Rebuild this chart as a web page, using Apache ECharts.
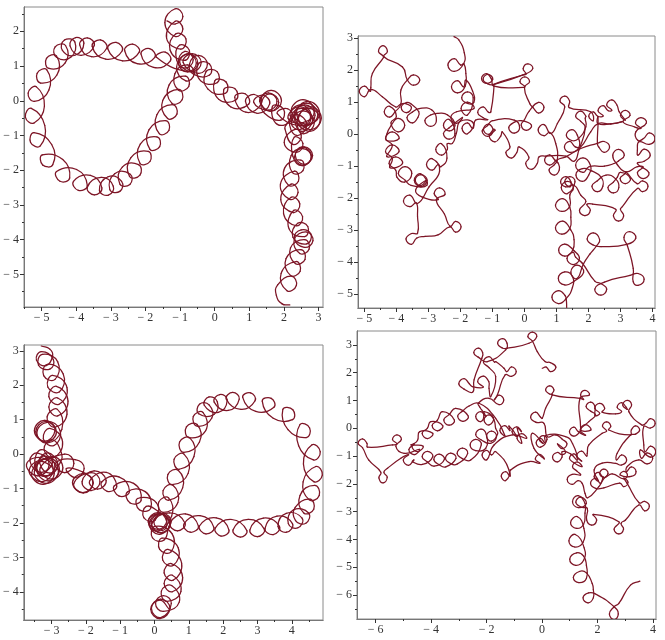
<!DOCTYPE html>
<html>
<head>
<meta charset="utf-8">
<style>html,body{margin:0;background:#fff}#c{width:665px;height:640px}</style>
<script src="https://cdn.jsdelivr.net/npm/echarts@6/dist/echarts.min.js"></script>
</head>
<body>
<div id="c"></div>
<script>
// tick labels
const xTicksA = [-5,-4,-3,-2,-1,0,1,2,3];
const yTicksA = [-5,-4,-3,-2,-1,0,1,2];
const xTicksB = [-5,-4,-3,-2,-1,0,1,2,3,4];
const yTicksB = [-5,-4,-3,-2,-1,0,1,2,3];
const xTicksC = [-3,-2,-1,0,1,2,3,4];
const yTicksC = [-4,-3,-2,-1,0,1,2,3];
const xTicksD = [-6,-4,-2,0,2,4];
const yTicksD = [-6,-5,-4,-3,-2,-1,0,1,2,3];

// top left curve
const curveA = [
[2.17,-5.88],[1.95,-5.85],[1.78,-5.6],[1.82,-5.3],
[2.21,-5.05],[2.36,-5.32],[2.09,-5.47],[1.92,-4.97],
[2.35,-4.63],[2.47,-4.91],[2.19,-5.03],[2.06,-4.55],
[2.49,-4.29],[2.61,-4.57],[2.33,-4.69],[2.19,-4.24],
[2.6,-4],[2.73,-4.27],[2.46,-4.4],[2.3,-4],
[2.65,-3.78],[2.84,-4.03],[2.59,-4.22],[2.3,-3.95],
[2.5,-3.72],[2.78,-3.84],[2.66,-4.12],[2.26,-3.93],
[2.4,-3.53],[2.69,-3.62],[2.6,-3.91],[2.15,-3.69],
[2.28,-3.16],[2.54,-3.34],[2.36,-3.6],[1.99,-3.25],
[2.21,-2.78],[2.46,-2.97],[2.27,-3.22],[1.91,-2.85],
[2.21,-2.4],[2.41,-2.64],[2.17,-2.84],[1.9,-2.4],
[2.31,-2.03],[2.42,-2.32],[2.13,-2.43],[2.02,-1.94],
[2.49,-1.71],[2.55,-2.01],[2.25,-2.07],[2.21,-1.58],
[2.55,-1.38],[2.79,-1.62],[2.55,-1.86],[2.31,-1.62],
[2.58,-1.33],[2.83,-1.58],[2.58,-1.83],[2.33,-1.58],
[2.53,-1.33],[2.8,-1.6],[2.53,-1.87],[2.26,-1.6],
[2.3,-1.05],[2.55,-1.23],[2.36,-1.49],[2.01,-1.2],
[2.34,-.82],[2.5,-1.07],[2.24,-1.25],[2.03,-.81],
[2.06,-.7],[2.36,-.4],[2.66,-.7],[2.36,-1],
[2.17,-.55],[2.5,-.22],[2.83,-.55],[2.5,-.88],
[2.32,-.4],[2.65,-.07],[2.98,-.4],[2.65,-.73],
[2.42,-.5],[2.75,-.17],[3.08,-.5],[2.75,-.83],
[2.37,-.35],[2.7,-.02],[3.03,-.35],[2.7,-.68],
[2.22,-.3],[2.55,.03],[2.88,-.3],[2.55,-.63],
[2.12,-.5],[2.45,-.17],[2.78,-.5],[2.45,-.83],
[2.22,-.62],[2.55,-.29],[2.88,-.62],[2.55,-.95],
[2.39,-.55],[2.72,-.22],[3.05,-.55],[2.72,-.88],
[2.3,-.42],[2.6,-.12],[2.9,-.42],[2.6,-.72],
[2.18,-.42],[2.48,-.12],[2.78,-.42],[2.48,-.72],
[1.81,-.37],[2.11,-.23],[2.25,-.53],[1.81,-.68],
[1.67,-.16],[1.99,-.24],[1.91,-.56],[1.44,-.36],
[1.35,-.05],[1.6,.2],[1.85,-.05],[1.6,-.3],
[1.33,0],[1.63,.3],[1.93,0],[1.63,-.3],
[1.3,-.02],[1.55,.23],[1.8,-.02],[1.55,-.27],
[1.13,-.05],[1.38,.16],[1.59,-.09],[1.22,-.36],
[.89,-.02],[1.15,.18],[1.35,-.08],[.9,-.33],
[.58,.1],[.88,.2],[.98,-.1],[.47,-.18],
[.26,.31],[.58,.35],[.62,.03],[.12,.04],
[0,.57],[.33,.54],[.3,.21],[-.2,.34],
[-.25,.84],[.07,.84],[.07,.52],[-.41,.58],
[-.47,1.06],[-.15,1.06],[-.15,.74],[-.6,.76],
[-.73,1.05],[-.47,1.31],[-.21,1.05],[-.47,.79],
[-.91,1.1],[-.65,1.36],[-.39,1.1],[-.65,.84],
[-1.01,1.1],[-.75,1.36],[-.49,1.1],[-.75,.84],
[-1.68,1.25],[-1.43,1.4],[-1.28,1.15],[-1.77,.96],
[-2.13,1.35],[-1.88,1.5],[-1.73,1.25],[-2.24,1.07],
[-2.6,1.44],[-2.37,1.63],[-2.18,1.4],[-2.66,1.15],
[-3.09,1.5],[-2.85,1.68],[-2.67,1.44],[-3.15,1.2],
[-3.54,1.57],[-3.3,1.75],[-3.12,1.51],[-3.56,1.27],
[-3.9,1.61],[-3.68,1.81],[-3.48,1.59],[-3.86,1.31],
[-4.18,1.58],[-4.02,1.82],[-3.78,1.66],[-4.04,1.31],
[-4.4,1.45],[-4.34,1.75],[-4.04,1.69],[-4.16,1.25],
[-4.57,1.25],[-4.61,1.55],[-4.31,1.59],[-4.32,1.09],
[-4.79,.93],[-4.86,1.22],[-4.57,1.29],[-4.56,.74],
[-5.03,.51],[-5.13,.79],[-4.85,.89],[-4.79,.31],
[-5.21,-.02],[-5.39,.22],[-5.15,.4],[-4.92,-.16],
[-5.22,-.64],[-5.47,-.47],[-5.3,-.22],[-4.91,-.71],
[-5.04,-1.3],[-5.32,-1.2],[-5.22,-.92],[-4.71,-1.26],
[-4.68,-1.84],[-4.97,-1.85],[-4.98,-1.56],[-4.39,-1.69],
[-4.19,-2.22],[-4.47,-2.32],[-4.57,-2.04],[-3.99,-1.98],
[-3.68,-2.44],[-3.94,-2.58],[-4.08,-2.32],[-3.59,-2.15],
[-3.26,-2.51],[-3.48,-2.71],[-3.68,-2.49],[-3.28,-2.21],
[-2.93,-2.46],[-3.07,-2.72],[-3.33,-2.58],[-3.08,-2.19],
[-2.69,-2.32],[-2.74,-2.61],[-3.03,-2.56],[-2.89,-2.1],
[-2.44,-2.12],[-2.45,-2.41],[-2.74,-2.4],[-2.67,-1.91],
[-2.2,-1.84],[-2.16,-2.14],[-2.46,-2.18],[-2.42,-1.64],
[-1.92,-1.46],[-1.87,-1.75],[-2.16,-1.8],[-2.15,-1.25],
[-1.67,-1.04],[-1.59,-1.32],[-1.87,-1.4],[-1.9,-.84],
[-1.42,-.57],[-1.32,-.85],[-1.6,-.95],[-1.67,-.4],
[-1.22,-.11],[-1.09,-.38],[-1.36,-.51],[-1.5,.01],
[-1.04,.33],[-.94,.03],[-1.24,-.07],[-1.32,.45],
[-.85,.71],[-.75,.41],[-1.05,.31],[-1.15,.78],
[-.79,1.03],[-.59,.78],[-.83,.57],[-1.1,.97],
[-.79,1.35],[-.53,1.09],[-.79,.83],[-1.05,1.09],
[-.86,1.42],[-.62,1.18],[-.86,.94],[-1.1,1.18],
[-1.02,1.6],[-.73,1.45],[-.88,1.16],[-1.29,1.46],
[-1.12,1.93],[-.83,1.78],[-.98,1.49],[-1.39,1.8],
[-1.14,2.29],[-.92,2.07],[-1.14,1.85],[-1.44,2.25],
[-1.14,2.65],[-.92,2.43],[-1.14,2.21],[-1.38,2.3]
];

// top right curve
const curveB = [
[1.32,-5.42],[1.31,-5.2],[1.27,-5.05],[1.06,-4.9],[.86,-5.1],[1.06,-5.3],[1.3,-5.15],[1.5,-4.8],
[1.5,-4.45],[1.26,-4.31],[1.06,-4.51],[1.26,-4.72],[1.55,-4.6],
[1.85,-4.32],[1.64,-4.1],[1.45,-4.32],[1.64,-4.52],[1.85,-4.05],[2.05,-3.75],[2.25,-3.5],
[2.35,-3.3],[2.15,-3.09],[1.96,-3.28],[2.15,-3.47],[2.4,-3.52],[3.2,-3.45],
[3.48,-3.25],[3.29,-3.05],[3.11,-3.23],[3.22,-3.5],[3.4,-4.2],
[3.4,-4.62],[3.55,-4.73],[3.74,-4.54],[3.55,-4.36],[3.3,-4.42],[2.5,-4.63],
[2.2,-4.85],[2.39,-5.04],[2.57,-4.85],[2.4,-4.68],[2.2,-4.6],[1.81,-4.04],[1.6,-3.85],
[1.52,-3.7],[1.33,-3.89],[1.52,-4.08],[1.72,-3.89],[1.55,-3.65],
[1.26,-3.44],[1.07,-3.63],[1.26,-3.82],[1.5,-3.65],[1.55,-3.3],[1.45,-3],
[1.2,-2.72],[.97,-2.93],[1.17,-3.13],[1.42,-2.95],[1.45,-2.6],[1.42,-2.3],
[1.2,-2.02],[.97,-2.22],[1.17,-2.42],[1.42,-2.25],[1.42,-1.9],
[1.53,-1.67],[1.34,-1.48],[1.15,-1.67],[1.34,-1.86],
[1.58,-1.49],[1.42,-1.33],[1.26,-1.49],[1.42,-1.65],
[1.45,-1.49],[1.29,-1.33],[1.13,-1.49],[1.29,-1.65],[1.55,-1.6],
[1.76,-1.91],[1.92,-2.11],
[1.72,-2.38],[1.89,-2.55],[2.06,-2.38],[1.95,-2.2],[2.13,-2.19],[2.85,-2.35],
[2.78,-2.56],[2.94,-2.72],[3.1,-2.56],[3,-2.35],[3.06,-2.27],[3.53,-1.7],
[3.69,-1.8],[3.86,-1.63],[3.69,-1.46],[3.52,-1.55],[3.17,-1.18],
[3.15,-1.23],[2.99,-1.39],[3.15,-1.55],[3.31,-1.39],[3,-1.2],[2.9,-1.35],
[2.78,-1.5],[2.61,-1.67],[2.78,-1.84],[2.95,-1.67],[2.85,-1.4],[2.55,-1.28],
[2.28,-1.46],[2.11,-1.63],[2.28,-1.8],[2.45,-1.63],[2.4,-1.35],[2.1,-1.15],
[1.81,-1.08],[1.61,-1.28],[1.81,-1.48],[2.01,-1.28],
[2.06,-.97],[1.83,-.74],[1.6,-.97],[1.83,-1.2],[2.02,-1.02],[2.5,-1],[2.8,-.92],
[2.94,-.84],[3.12,-.66],[2.94,-.48],[2.76,-.66],[2.9,-.95],[3.17,-1.18],[3.53,-1.02],
[3.71,-1.03],[3.53,-1.21],[3.71,-1.39],[3.89,-1.21],[3.53,-.92],
[3.74,-.85],[3.93,-.66],[3.74,-.47],[3.55,-.66],[3.53,-.5],[3.58,-.24],
[3.9,-.32],[4.08,-.14],[3.9,.04],[3.72,-.14],[3.55,-.2],[3.48,.07],
[3.81,.35],[3.64,.52],[3.47,.35],[3.64,.18],[3.43,.23],[3.08,.39],
[3.3,.59],[3.15,.74],[3,.59],[3.15,.44],[2.96,.7],
[2.89,.91],[2.73,1.07],[2.57,.91],[2.73,.75],
[2.62,.73],[2.46,.89],[2.3,.73],[2.46,.57],
[2.29,.56],[2.15,.7],[2.01,.56],[2.15,.42],[2.07,.7],[1.4,.83],
[1.41,1.04],[1.26,1.19],[1.11,1.04],[1.26,.85],[1.03,.33],[.82,.02],
[.61,.3],[.43,.13],[.61,-.05],[.79,.05],[.98,-.3],[1.03,-.8],
[.93,-.96],[.77,-1.12],[.93,-1.28],[1.09,-1.12],[1.05,-.9],
[.95,-.81],[.79,-.65],[.63,-.81],[.79,-.97],[1.03,-.8],[1.29,-.71],[1.76,-.45],[2.28,-.29],
[2.49,-.23],[2.66,-.4],[2.49,-.57],[2.32,-.4],[2.28,-.29],[2.3,.31],[2.3,.55],[2.3,.33],[2.7,.32],[3.06,.39],[2.7,.32],[2.3,.33],[2.07,.07],[1.76,-.4],
[1.59,-.4],[1.42,-.23],[1.25,-.4],[1.42,-.57],[1.7,-.42],
[1.65,-.03],[1.48,.14],[1.31,-.03],[1.48,-.2],[1.68,-.15],[1.92,.23],[1.9,.5],
[1.92,.56],[1.76,.72],[1.6,.56],[1.76,.4],[1.9,.2],[1.7,-.5],[1.55,-.85],[1.29,-.69],[.67,-.69],[.46,-.71],
[.4,-.92],[.22,-1.1],[.04,-.92],[.14,-.72],[-.17,-.4],
[-.24,-.58],[-.41,-.75],[-.58,-.58],[-.45,-.4],[-.69,.07],
[-.74,-.06],[-.92,-.24],[-1.1,-.06],[-.92,.12],
[-.96,.15],[-1.12,-.01],[-1.28,.15],[-1.12,.31],
[-.98,.1],[-1.15,-.07],[-1.32,.1],[-1.15,.27],[-1,.42],[-.32,.44],
[-.15,.2],[-.32,.03],[-.49,.2],[-.32,.37],[-.1,.42],
[.22,.28],[.06,.12],[-.1,.28],[0,.45],[.15,.72],
[.44,.99],[.61,.83],[.44,.66],[.27,.83],[.17,.95],[0,1.46],
[.16,1.64],[.01,1.79],[-.14,1.64],[.01,1.49],[0,1.46],[-.95,1.5],
[-1.04,1.74],[-1.19,1.89],[-1.34,1.74],[-1.19,1.59],
[-.99,1.72],[-1.14,1.87],[-1.29,1.72],[-1.14,1.57],[-.98,1.55],[0,1.87],
[.26,2.05],[.11,2.2],[-.04,2.05],[.05,1.88],[-.05,1.85],[-.98,1.55],[-.95,1.5],[-1.05,.7],
[-1.12,.68],[-1.29,.85],[-1.46,.68],[-1.29,.51],[-1.15,.45],[-1.52,.44],
[-1.61,.18],[-1.78,.35],[-1.95,.18],[-1.78,.01],[-1.6,.35],[-2,.4],[-2.13,.02],[-2.25,-.29],[-2.41,-.3],
[-2.41,-.48],[-2.59,-.66],[-2.77,-.48],[-2.59,-.3],[-2.42,-.75],[-2.61,-1.02],
[-2.7,-.95],[-2.88,-1.13],[-3.06,-.95],[-2.88,-.77],[-2.65,-1.15],[-2.98,-1.65],[-3.34,-2.17],
[-3.58,-1.91],[-3.78,-2.09],[-3.58,-2.27],[-3.38,-2.15],[-3.34,-2.58],[-3.34,-3.1],
[-3.53,-3.11],[-3.7,-3.28],[-3.53,-3.45],[-3.36,-3.25],[-3.1,-3.2],[-2.7,-3.15],[-2.33,-2.9],
[-2.15,-3.07],[-1.98,-2.9],[-2.15,-2.73],[-2.32,-2.88],[-2.5,-2.5],[-2.75,-2.05],
[-2.48,-1.88],[-2.65,-1.68],[-2.82,-1.85],[-2.7,-2.05],[-3.19,-1.97],[-3.4,-1.75],
[-3.07,-1.44],[-3.24,-1.61],[-3.41,-1.44],[-3.24,-1.27],
[-3.04,-1.44],[-3.24,-1.64],[-3.44,-1.44],[-3.24,-1.24],[-3.05,-1.6],[-3.55,-1.6],
[-3.73,-1.44],[-3.94,-1.23],[-3.73,-1.02],[-3.52,-1.23],[-3.75,-1.5],[-3.98,-1.35],
[-4.02,-1.13],[-4.23,-.92],[-4.02,-.71],[-3.81,-.92],[-4.2,-1.05],
[-4.13,-.76],[-4.34,-.55],[-4.13,-.34],[-3.92,-.55],[-4.3,-.7],
[-4.13,-.35],[-4.34,-.14],[-4.13,.07],[-3.92,-.14],[-4.3,-.2],[-4.3,0],
[-4.16,.28],[-3.95,.49],[-3.74,.28],[-3.95,.07],[-4.17,.35],[-4,.55],
[-4.21,.87],[-4.38,.7],[-4.21,.53],[-4.04,.7],[-3.86,.94],[-3.86,1.38],[-3.66,1.69],
[-3.47,1.85],[-3.27,1.69],[-3.47,1.53],[-3.66,1.7],[-3.81,2.1],[-4.39,2.42],
[-4.28,2.59],[-4.42,2.77],[-4.56,2.59],[-4.42,2.45],[-4.4,2.4],[-4.75,1.9],[-4.8,1.46],
[-4.82,1.34],[-4.99,1.5],[-5.16,1.34],[-4.99,1.17],[-4.8,1.4],[-4.44,1.17],[-4.02,.85],[-3.86,.94],[-3.7,.95],
[-3.53,.83],[-3.69,.67],[-3.85,.83],[-3.69,.99],[-3.55,.95],[-3.3,.7],
[-3.33,.52],[-3.5,.35],[-3.67,.52],[-3.5,.69],[-3.29,.8],[-2.9,.76],
[-2.75,.42],[-2.93,.24],[-3.11,.42],[-2.93,.6],[-2.7,.65],[-2.4,.6],
[-2.17,.28],[-2.35,.1],[-2.53,.28],[-2.35,.46],
[-2.17,.02],[-2.35,-.16],[-2.53,.02],[-2.35,.2],
[-1.94,.52],[-2.12,.34],[-2.3,.52],[-2.12,.7],
[-1.58,.8],[-1.78,1],[-1.98,.8],[-1.78,.6],
[-1.6,1.14],[-1.78,1.32],[-1.96,1.14],[-1.78,.96],[-1.58,1],[-1.62,1.35],[-1.83,1.69],
[-1.9,1.48],[-2.09,1.67],[-2.28,1.48],[-2.09,1.29],[-1.85,1.5],[-1.83,1.9],[-1.89,2.2],
[-1.99,2.16],[-2.19,2.36],[-2.39,2.16],[-2.19,1.96],[-1.9,2.2],[-1.88,2.55],[-2.05,2.95],[-2.2,3.05]
];

// bottom left curve
const curveC = [
[.43,-4.51],[.16,-4.24],[-.11,-4.51],[.16,-4.78],
[.45,-4.48],[.18,-4.21],[-.09,-4.48],[.18,-4.75],
[.49,-4.34],[.26,-4.11],[.03,-4.34],[.26,-4.57],[.72,-4.3],
[.5,-3.82],[.2,-3.98],[.36,-4.28],[.77,-3.99],
[.52,-3.52],[.28,-3.76],[.52,-4],[.82,-3.59],
[.49,-3.18],[.28,-3.45],[.55,-3.66],[.79,-3.17],
[.39,-2.77],[.24,-3.08],[.55,-3.23],[.69,-2.72],
[.22,-2.44],[.15,-2.77],[.48,-2.84],[.51,-2.31],
[.01,-2.1],[-.06,-2.43],[.27,-2.5],[.42,-2.1],
[.46,-2.01],[.18,-1.73],[-.1,-2.01],[.18,-2.29],
[.45,-2.03],[.15,-1.73],[-.15,-2.03],[.15,-2.33],
[.48,-1.97],[.23,-1.72],[-.02,-1.97],[.23,-2.22],
[.36,-1.97],[.09,-1.7],[-.18,-1.97],[.09,-2.24],[.5,-1.8],
[.41,-1.27],[.12,-1.4],[.25,-1.69],[.68,-1.41],
[.53,-.9],[.25,-1.06],[.41,-1.34],[.82,-.98],
[.69,-.47],[.39,-.59],[.51,-.89],[.98,-.56],
[.86,0],[.57,-.15],[.72,-.44],[1.15,-.07],
[1.03,.47],[.73,.35],[.85,.05],[1.31,.35],
[1.24,.86],[.93,.79],[1,.48],[1.49,.68],
[1.41,1.21],[1.13,1.09],[1.25,.81],[1.67,1.05],
[1.59,1.43],[1.31,1.45],[1.29,1.17],[1.74,1.16],
[1.83,1.52],[1.59,1.66],[1.45,1.42],[1.86,1.21],
[2.12,1.57],[1.9,1.73],[1.74,1.51],[2.15,1.27],
[2.47,1.6],[2.28,1.79],[2.09,1.6],[2.52,1.3],
[2.93,1.55],[2.8,1.78],[2.57,1.65],[2.95,1.24],
[3.48,1.36],[3.4,1.62],[3.14,1.54],[3.46,1.04],
[4.02,1],[4.03,1.29],[3.74,1.3],[3.89,.71],
[4.42,.48],[4.52,.76],[4.24,.86],[4.2,.24],
[4.63,-.17],[4.83,.07],[4.59,.27],[4.34,-.29],
[4.64,-.8],[4.89,-.61],[4.7,-.36],[4.33,-.81],
[4.51,-1.33],[4.8,-1.2],[4.67,-.91],[4.24,-1.2],
[4.35,-1.71],[4.64,-1.6],[4.53,-1.31],[4.1,-1.55],
[4.11,-1.93],[4.41,-2.01],[4.49,-1.71],[4.05,-1.62],
[3.9,-2.02],[4.18,-2.14],[4.3,-1.86],[3.84,-1.72],
[3.6,-2.1],[3.85,-2.27],[4.02,-2.02],[3.57,-1.8],
[3.22,-2.16],[3.46,-2.34],[3.64,-2.1],[3.17,-1.86],
[2.78,-2.2],[3,-2.4],[3.2,-2.18],[2.73,-1.9],
[2.29,-2.2],[2.5,-2.41],[2.69,-2.22],[2.25,-1.9],
[1.77,-2.15],[1.94,-2.38],[2.17,-2.21],[1.8,-1.85],
[1.31,-2.09],[1.5,-2.32],[1.73,-2.13],[1.33,-1.79],
[.86,-2.03],[1.04,-2.27],[1.28,-2.09],[.9,-1.74],
[.45,-2.01],[.67,-2.23],[.89,-2.01],[.44,-1.71],
[-.07,-2.01],[.2,-2.28],[.47,-2.01],[.2,-1.74],
[-.18,-1.92],[.09,-2.19],[.36,-1.92],[.09,-1.65],
[-.24,-1.52],[-.31,-1.85],[.02,-1.92],[.05,-1.41],
[-.49,-1.29],[-.44,-1.62],[-.11,-1.57],[-.27,-1.09],
[-.79,-1.1],[-.71,-1.42],[-.39,-1.34],[-.61,-.85],
[-1.17,-.92],[-1.03,-1.22],[-.73,-1.08],[-1.04,-.66],
[-1.54,-.81],[-1.38,-1.08],[-1.1,-.93],[-1.41,-.53],
[-1.89,-.78],[-1.66,-1.02],[-1.41,-.76],[-1.76,-.49],
[-2.11,-.8],[-1.85,-1.06],[-1.59,-.8],[-1.85,-.54],
[-2.35,-.85],[-2.07,-1.13],[-1.79,-.85],[-2.07,-.57],
[-2.39,-.82],[-2.09,-1.12],[-1.79,-.82],[-2.09,-.52],
[-2.57,-.42],[-2.31,-.68],[-2.05,-.42],[-2.31,-.16],
[-2.89,-.27],[-2.62,-.54],[-2.35,-.27],[-2.62,0],
[-3.33,-.4],[-3,-.73],[-2.67,-.4],[-3,-.07],
[-3.5,-.5],[-3.15,-.85],[-2.8,-.5],[-3.15,-.15],
[-3.65,-.45],[-3.3,-.8],[-2.95,-.45],[-3.3,-.1],
[-3.73,-.3],[-3.4,-.63],[-3.07,-.3],[-3.4,.03],
[-3.63,-.2],[-3.3,-.53],[-2.97,-.2],[-3.3,.13],
[-3.48,-.3],[-3.15,-.63],[-2.82,-.3],[-3.15,.03],
[-3.43,-.45],[-3.1,-.78],[-2.77,-.45],[-3.1,-.12],
[-3.58,-.55],[-3.25,-.88],[-2.92,-.55],[-3.25,-.22],
[-3.5,-.35],[-3.2,-.65],[-2.9,-.35],[-3.2,-.05],
[-3.35,-.25],[-3.05,-.55],[-2.75,-.25],[-2.72,.05],
[-2.98,.42],[-3.22,.14],[-2.94,-.1],[-2.68,.36],
[-3.05,.75],[-3.24,.44],[-2.93,.25],[-2.75,.68],
[-3.16,.95],[-3.46,.65],[-3.16,.35],[-2.86,.65],
[-3.2,.98],[-3.5,.68],[-3.2,.38],[-2.9,.68],
[-3.13,.92],[-3.43,.62],[-3.13,.32],[-2.7,.72],
[-2.83,1.3],[-3.13,1.08],[-2.91,.78],[-2.55,1.16],
[-2.82,1.63],[-3.08,1.37],[-2.82,1.11],[-2.52,1.54],
[-2.86,1.97],[-3.08,1.67],[-2.78,1.45],[-2.55,1.93],
[-2.97,2.29],[-3.11,1.95],[-2.77,1.81],[-2.66,2.33],
[-3.12,2.61],[-3.23,2.28],[-2.9,2.17],[-2.82,2.68],
[-3.27,2.9],[-3.38,2.58],[-3.05,2.47],[-2.95,2.75],
[-3.3,2.98],[-3.44,2.73],[-3.16,2.57],[-2.97,2.85],[-3.05,3.05],[-3.3,3.14]
];

// bottom right curve
const curveD = [
[3.53,-5.5],[3.19,-5.64],[2.77,-6.3],
[2.6,-6.42],[2.43,-6.68],[2.6,-6.88],[2.75,-6.68],[2.6,-6.42],[1.93,-5.96],
[1.68,-5.92],[1.48,-6.1],[1.66,-6.28],[1.85,-6.1],[1.85,-5.8],[1.81,-5.58],
[1.6,-5.2],[1.35,-5.15],[1.13,-5.37],[1.33,-5.55],[1.6,-5.4],[1.6,-4.92],
[1.5,-4.6],[1.25,-4.48],[1,-4.71],[1.21,-4.93],[1.5,-4.75],[1.52,-4.3],
[1.2,-3.82],[.97,-4.05],[1.18,-4.27],[1.48,-4.1],[1.51,-3.6],
[1.28,-3.18],[1.03,-3.39],[1.24,-3.6],[1.5,-3.45],[1.55,-3.05],
[1.55,-2.7],[1.3,-2.42],[1.1,-2.64],[1.31,-2.85],
[1.6,-2.7],[1.4,-2.48],[1.22,-2.66],[1.42,-2.84],[1.63,-2.88],
[1.61,-3.3],[1.79,-3.48],[1.97,-3.3],[1.85,-3.1],[2.77,-3.36],
[2.6,-3.63],[2.77,-3.8],[2.94,-3.63],[2.85,-3.42],[3.01,-3.3],[3.49,-2.76],
[3.7,-2.97],[3.87,-2.8],[3.7,-2.63],[3.5,-2.68],[3.07,-1.98],
[2.95,-1.79],[3.1,-1.94],[2.95,-2.1],[2.8,-1.97],[2.23,-2.14],
[1.93,-2.16],[1.75,-1.98],[1.93,-1.8],[2.11,-1.98],[2.2,-1.74],
[2.18,-1.74],[2.03,-1.59],[1.88,-1.74],[2.03,-1.89],[1.88,-1.5],[2.17,-1.25],[2.65,-1.26],
[2.87,-1.32],[3.05,-1.14],[2.87,-.96],[2.69,-1.14],[2.71,-.9],[3.19,-.24],
[3.37,-.21],[3.52,-.06],[3.37,.09],[3.22,-.06],[3.19,-.24],[2.41,-.06],
[2.48,.08],[2.33,.23],[2.18,.08],[2.33,-.1],[2.17,-.18],[1.69,-.6],[1.63,-.9],
[1.61,-1],[1.43,-.82],[1.25,-1],[1.43,-1.18],
[1.31,-1.08],[1.15,-.92],[.99,-1.08],[1.15,-1.24],
[1.44,-1.38],[1.27,-1.21],[1.1,-1.38],[1.27,-1.55],[1.39,-1.68],
[1.09,-1.66],[.91,-1.84],[1.09,-2.02],[1.3,-1.88],[1.45,-1.98],[1.55,-2.34],[1.65,-2.5],[2.05,-2.1],[2.2,-1.85],
[2.38,-1.62],[2.23,-1.47],[2.08,-1.62],[2.23,-1.77],[2.53,-1.64],
[2.95,-1.82],[3.08,-1.68],[2.95,-1.55],[2.82,-1.68],
[3.22,-1.73],[3.39,-1.56],[3.22,-1.39],[3.05,-1.56],[3.07,-1.38],[3.49,-1.14],
[3.79,-1.28],[3.99,-1.08],[3.79,-.88],[3.59,-1.08],[3.55,-.78],
[3.91,-1.04],[4.1,-.84],[3.91,-.64],[3.72,-.84],[3.67,-.6],[3.67,.06],
[3.91,.01],[4.08,.18],[3.91,.35],[3.74,.18],[3.6,.12],[3.13,.6],
[3.23,.84],[3.07,1],[2.91,.84],[3.07,.68],
[3.03,.76],[2.87,.92],[2.71,.76],[2.87,.6],[2.65,.52],[2.17,.58],
[2.26,.72],[2.08,.9],[1.9,.72],[2.08,.54],[1.91,.46],
[1.91,.78],[1.75,.94],[1.59,.78],[1.75,.62],[1.93,.48],[1.69,.24],[1.39,-.06],
[1.76,-.06],[1.57,.13],[1.38,-.06],[1.57,-.25],
[1.31,-.12],[1.15,.04],[.99,-.12],[1.15,-.28],[1.38,-.1],[1.39,.06],[1.37,1.08],
[1.71,1.2],[1.55,1.36],[1.39,1.2],[1.5,1.04],[1.37,1.08],[.37,1.2],
[.43,1.38],[.28,1.53],[.13,1.38],[.28,1.23],[.37,1.2],[.13,.72],[.01,.36],
[-.05,.4],[-.23,.58],[-.41,.4],[-.23,.22],[.07,.18],[.19,-.3],[.49,-.24],
[.73,-.39],[.9,-.56],[.73,-.73],[.56,-.56],[.85,-.84],
[.72,-.95],[.55,-.87],[.38,-1.04],[.55,-1.21],[.72,-1.04],[.73,-.84],[1.03,-.92],[1.27,-1.14],[1.1,-.55],[.85,-.3],[.13,-.26],
[.11,-.52],[-.05,-.36],[-.21,-.52],[-.05,-.68],
[.18,-.4],[.04,-.26],[-.1,-.4],[.04,-.54],[-.35,-.18],[-.29,-.72],
[.08,-1.1],[-.08,-.94],[-.24,-1.1],[-.08,-1.26],[-.47,-1.2],[-1.13,-1.5],
[-1.15,-1.72],[-1.31,-1.56],[-1.47,-1.72],[-1.31,-1.88],[-1.19,-1.5],[-1.67,-.84],
[-1.82,-.96],[-1.99,-.79],[-2.16,-.96],[-1.99,-1.13],[-1.73,-.6],[-1.07,-.24],
[-.56,-.36],[-.73,-.19],[-.9,-.36],[-.73,-.53],[-.89,0],
[-.74,-.12],[-.91,.05],[-1.08,-.12],[-.91,-.29],[-1.19,.08],
[-1.16,-.08],[-1.34,.1],[-1.52,-.08],[-1.34,-.26],[-1.67,.36],[-2.27,.9],[-2.63,.8],
[-2.85,.63],[-3.04,.44],[-2.85,.25],[-2.66,.44],[-3.11,.72],
[-3.35,.49],[-3.54,.3],[-3.35,.11],[-3.16,.3],[-3.59,.6],
[-3.77,.29],[-3.96,.1],[-3.77,-.09],[-3.58,.1],[-4.01,.24],
[-4.13,.01],[-4.32,-.18],[-4.13,-.37],[-3.94,-.18],[-4.41,-.12],
[-4.49,-.44],[-4.69,-.64],[-4.49,-.84],[-4.29,-.64],[-4.72,-.6],
[-4.61,-.57],[-4.8,-.76],[-4.61,-.95],[-4.42,-.76],[-4.97,-.9],[-5.27,-.64],
[-5.07,-.4],[-5.23,-.24],[-5.39,-.4],[-5.23,-.56],[-5.39,-.6],[-6.29,-.68],
[-6.31,-.54],[-6.47,-.38],[-6.63,-.54],[-6.47,-.7],[-6.25,-1.14],[-5.81,-1.58],
[-5.88,-1.78],[-5.73,-1.96],[-5.58,-1.76],[-5.7,-1.58],[-5.57,-1.44],[-5.09,-1.08],
[-4.81,-.95],[-5,-1.14],[-4.81,-1.33],[-4.62,-1.14],[-4.67,-1.2],[-4.31,-1.3],
[-3.94,-1.02],[-4.13,-.83],[-4.32,-1.02],[-4.13,-1.21],[-3.89,-1.36],
[-3.52,-1.12],[-3.71,-.93],[-3.9,-1.12],[-3.71,-1.31],[-3.47,-1.39],
[-3.1,-1.08],[-3.29,-.89],[-3.48,-1.08],[-3.29,-1.27],[-3.05,-1.28],
[-2.68,-.9],[-2.87,-.71],[-3.06,-.9],[-2.87,-1.09],[-2.57,-1.14],
[-2.19,-.6],[-2.39,-.4],[-2.59,-.6],[-2.39,-.8],[-2.03,-.72],
[-2.01,-.22],[-2.2,-.03],[-2.39,-.22],[-2.2,-.41],[-1.85,-.54],
[-1.64,-.28],[-1.82,-.1],[-2,-.28],[-1.82,-.46],[-1.6,-.2],[-1.67,0],
[-1.73,.3],[-1.91,.48],[-2.09,.3],[-1.91,.12],[-1.75,.38],[-2.09,.6],
[-2.03,.42],[-2.21,.6],[-2.39,.42],[-2.21,.24],[-2.1,.5],[-2.24,.76],[-2.3,.9],[-1.91,1.08],
[-1.55,.85],[-1.38,1.02],[-1.55,1.19],[-1.72,1.02],[-1.61,1.2],[-1.33,1.92],
[-1.1,1.87],[-.93,2.04],[-1.1,2.21],[-1.27,2.04],[-1.37,2.16],[-1.67,2.4],
[-1.71,2.38],[-1.91,2.58],[-2.11,2.38],[-1.91,2.18],[-1.67,1.86],[-1.85,1.14],[-1.91,1.44],
[-1.92,1.68],[-2.12,1.88],[-2.32,1.68],[-2.12,1.48],[-2.51,1.5],
[-2.62,1.6],[-2.81,1.79],[-3,1.6],[-2.81,1.41],[-2.5,1.3],[-2.45,1.74],[-2.17,2.52],
[-2.14,2.72],[-2.3,2.88],[-2.46,2.72],[-2.3,2.56],[-1.97,2.4],[-1.31,2.82],
[-1.26,3.06],[-1.43,3.23],[-1.6,3.06],[-1.43,2.89],[-1.25,2.88],[-.47,3.06],
[-.19,3.3],[-.35,3.46],[-.51,3.3],[-.35,3.14],[-.17,2.76],[.11,2.4],
[.31,2.36],[.5,2.2],[.31,2.04],[.15,2.2],[.01,2.16]
];

const panels = [
  {box:[24,7,299,300], x:[-5.51,3.13], y:[-5.94,2.7], xt:xTicksA, yt:yTicksA, data:curveA},
  {box:[358,36,297,272], x:[-5.2,4.08], y:[-5.44,3.07], xt:xTicksB, yt:yTicksB, data:curveB},
  {box:[23,345,300,275], x:[-3.81,4.91], y:[-4.82,3.17], xt:xTicksC, yt:yTicksC, data:curveC},
  {box:[357,331,299,288], x:[-6.67,4.11], y:[-6.86,3.5], xt:xTicksD, yt:yTicksD, data:curveD}
];

const lab = v => v < 0 ? '\u2212 ' + Math.abs(v) : String(v);
const labelStyle = {fontFamily:'Liberation Serif', fontSize:12, color:'#333', margin:5, formatter:lab};

// minor ticks sit half way between the labelled ones
function minors(t, r) {
  const step = t[1] - t[0], out = [];
  for (let v = t[0] - step / 2; v < r[1]; v += step) {
    if (v > r[0]) out.push(v);
  }
  return out;
}

// the line series squares off small loops, so each segment is its own bezier
function curveSegment(curve) {
  return function (params, api) {
    const i = params.dataIndex;
    if (i >= curve.length - 1) return null;
    const at = j => api.coord(curve[Math.max(0, Math.min(curve.length - 1, j))]);
    const p0 = at(i - 1), p1 = at(i), p2 = at(i + 1), p3 = at(i + 2);
    const len = (a, b) => Math.hypot(a[0] - b[0], a[1] - b[1]);
    const a = len(p1, p2) / ((len(p0, p1) + len(p1, p2)) || 1) * 0.5;
    const b = len(p1, p2) / ((len(p1, p2) + len(p2, p3)) || 1) * 0.5;
    return {
      type: 'bezierCurve',
      shape: {
        x1: p1[0], y1: p1[1], x2: p2[0], y2: p2[1],
        cpx1: p1[0] + (p2[0] - p0[0]) * a, cpy1: p1[1] + (p2[1] - p0[1]) * a,
        cpx2: p2[0] - (p3[0] - p1[0]) * b, cpy2: p2[1] - (p3[1] - p1[1]) * b
      },
      style: {stroke: '#7d1526', fill: null, lineWidth: 1.25, lineCap: 'round'}
    };
  };
}

const option = {animation:false, backgroundColor:'#fff', grid:[], xAxis:[], yAxis:[], series:[]};
panels.forEach((p, i) => {
  option.grid.push({left:p.box[0], top:p.box[1], width:p.box[2], height:p.box[3], show:true,
    borderColor:'#8a8a8a', borderWidth:1, backgroundColor:'#fff'});
  const common = {type:'value', gridIndex:i, splitLine:{show:false},
    axisLine:{show:true, onZero:false, lineStyle:{color:'#777'}}};
  option.xAxis.push({...common, position:'bottom', min:p.x[0], max:p.x[1],
    axisTick:{show:true, length:4, lineStyle:{color:'#333'}, customValues:p.xt},
    axisLabel:{...labelStyle, customValues:p.xt}});
  option.xAxis.push({...common, position:'bottom', min:p.x[0], max:p.x[1],
    axisTick:{show:true, length:2, lineStyle:{color:'#333'}, customValues:minors(p.xt, p.x)},
    axisLabel:{show:false}});
  option.yAxis.push({...common, position:'left', min:p.y[0], max:p.y[1],
    axisTick:{show:true, length:4, lineStyle:{color:'#333'}, customValues:p.yt},
    axisLabel:{...labelStyle, customValues:p.yt}});
  option.yAxis.push({...common, position:'left', min:p.y[0], max:p.y[1],
    axisTick:{show:true, length:2, lineStyle:{color:'#333'}, customValues:minors(p.yt, p.y)},
    axisLabel:{show:false}});
  option.series.push({type:'custom', coordinateSystem:'cartesian2d', xAxisIndex:i*2, yAxisIndex:i*2,
    data:p.data, clip:true, renderItem:curveSegment(p.data), encode:{x:0, y:1}});
});

const chart = echarts.init(document.getElementById('c'), null, {renderer:'canvas'});
chart.setOption(option);
</script>
</body>
</html>
